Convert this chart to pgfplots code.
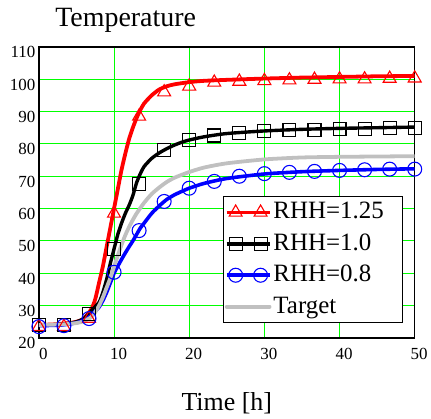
\documentclass[border=0pt]{standalone}
\usepackage{pgfplots}
\pgfplotsset{compat=1.18}
\usepackage{fontspec}
\setmainfont{Liberation Serif}
\definecolor{gridgreen}{RGB}{0,255,0}
\definecolor{tgray}{RGB}{192,192,192}
\begin{document}
\begin{tikzpicture}
\begin{axis}[
  name=ax, at={(0,0)}, anchor=south west,
  width=377pt, height=292pt, scale only axis,
  xmin=0, xmax=50, ymin=20, ymax=110,
  xtick={0,10,...,50}, ytick={20,30,...,110},
  grid=major,
  major grid style={draw=gridgreen, line width=0.9pt},
  axis line style={line width=1.3pt},
  tick style={draw=none},
  ticklabel style={font=\fontsize{17}{17}\selectfont},
  /pgf/number format/assume math mode=true,
  xticklabel style={yshift=-7pt, xshift=4.5pt},
  yticklabel style={yshift=-5.5pt},
  legend cell align=left,
  legend style={at={(0.4907,0.486)}, anchor=north west, draw=black, line width=1pt,
    fill=white, inner xsep=1pt, inner ysep=2pt, font=\fontsize{25}{25}\selectfont,
    row sep=4.5pt,
    nodes={inner sep=2pt, text height=18pt, text depth=5pt},
    /tikz/every even column/.append style={column sep=4pt}},
  legend image code/.code={
    \draw[#1] plot[mark indices={2,3}] coordinates {(0pt,0pt) (9pt,0pt) (34pt,0pt) (43pt,0pt)};
  },
]
% Red
\addplot[red, line width=3.8pt, smooth, tension=0.4, forget plot] coordinates {
(0,24) (2,24.2) (4,24.6) (5,25) (6,26) (7,29) (7.5,32) (8,37) (8.5,42) (9,48) (9.5,54) (10,60)
(10.5,66) (11,72) (11.5,77) (12,81.5) (12.5,85) (13,88) (13.5,90.5) (14,92.5) (15,95) (16,96.8)
(17,97.8) (18,98.4) (20,99.1) (22,99.5) (25,99.8) (30,100.2) (35,100.5) (40,100.7) (45,100.9) (50,101)};
\addplot[red, only marks, mark=triangle, mark size=7.5pt, mark options={line width=1.1pt}, forget plot] coordinates {
(0,23.5) (3.333,23.5) (6.667,26) (10,58.5) (13.333,88.5) (16.667,96) (20,97.8) (23.333,99)
(26.667,99.3) (30,99.5) (33.333,99.7) (36.667,99.9) (40,100) (43.333,100) (46.667,100.2) (50,100.3)};
% Black
\addplot[black, line width=3.4pt, smooth, tension=0.4, forget plot] coordinates {
(0,24) (2,24.1) (4,24.5) (5,25) (6,26) (7,28.5) (8,31) (8.5,34) (9,38) (9.5,43) (10,47.5) (10.5,52)
(11,55.5) (11.5,58.5) (12,61) (12.5,64) (13,68) (13.5,70.8) (14,73) (15,75.5) (16,77.2) (17,78.5)
(18,79.6) (19,80.5) (20,81.2) (22,82.2) (25,83.2) (30,84) (35,84.5) (40,84.8) (45,85) (50,85.2)};
\addplot[black, only marks, mark=square, mark size=6.5pt, mark options={line width=1.1pt}, forget plot] coordinates {
(0,24) (3.333,24) (6.667,27.5) (10,47.5) (13.333,67.5) (16.667,78) (20,81.2) (23.333,82.6)
(26.667,83.4) (30,83.9) (33.333,84.2) (36.667,84.4) (40,84.6) (43.333,84.6) (46.667,84.8) (50,84.9)};
% Blue
\addplot[blue, line width=3.6pt, smooth, tension=0.4, forget plot] coordinates {
(0,23.8) (3,24) (5,24.7) (6,25.5) (7,27) (7.5,28.3) (8,29.5) (8.5,31.5) (9,34) (9.5,37) (10,40)
(10.5,42.2) (11,44.3) (11.5,46.3) (12,48.2) (12.5,50) (13,52) (13.5,54) (14,55.5) (15,58.5) (16,60.8)
(17,62.8) (18,64.2) (19,65.3) (20,66.3) (22,67.8) (25,69.3) (30,70.7) (35,71.4) (40,71.8) (45,72.1) (50,72.3)};
\addplot[blue, only marks, mark=o, mark size=7pt, mark options={line width=1.1pt}, forget plot] coordinates {
(0,23.5) (3.333,23.8) (6.667,26) (10,40.3) (13.333,53.2) (16.667,62.2) (20,66.3) (23.333,68.4)
(26.667,70) (30,70.8) (33.333,71.2) (36.667,71.5) (40,71.8) (43.333,72) (46.667,72.2) (50,72.2)};
% Target
\addplot[tgray, line width=3.8pt, smooth, tension=0.4, forget plot] coordinates {
(0,24) (3,24.2) (5,24.6) (6,25.2) (7,26.5) (7.5,28) (8,30) (8.5,32.5) (9,35.5) (9.5,38.5) (10,42)
(10.5,45.5) (11,48.8) (11.5,51.8) (12,54.3) (12.5,56.5) (13,58.5) (14,61.8) (15,64.5) (16,66.5)
(17,68.2) (18,69.5) (20,71.3) (22,72.7) (25,74) (30,75.2) (35,75.8) (40,76) (45,76.1) (50,76.2)};
% Legend
\addlegendimage{red, line width=3.8pt, mark=triangle, mark size=7.5pt, mark options={line width=1.1pt}}
\addlegendentry{RHH=1.25\hspace*{16pt}}
\addlegendimage{black, line width=3.4pt, mark=square, mark size=6.5pt, mark options={line width=1.1pt}}
\addlegendentry{RHH=1.0}
\addlegendimage{blue, line width=3.6pt, mark=o, mark size=7pt, mark options={line width=1.1pt}}
\addlegendentry{RHH=0.8}
\addlegendimage{tgray, line width=3.8pt, line cap=round}
\addlegendentry{Target}
\end{axis}
\node[anchor=base west, font=\fontsize{28}{28}\selectfont] at ([xshift=13pt, yshift=20pt]ax.north west) {Temperature};
\node[anchor=base, font=\fontsize{26}{26}\selectfont] at ([yshift=-73pt]ax.south) {Time [h]};
\path (-39pt,-81pt) rectangle (392pt,339pt);
\end{tikzpicture}
\end{document}
